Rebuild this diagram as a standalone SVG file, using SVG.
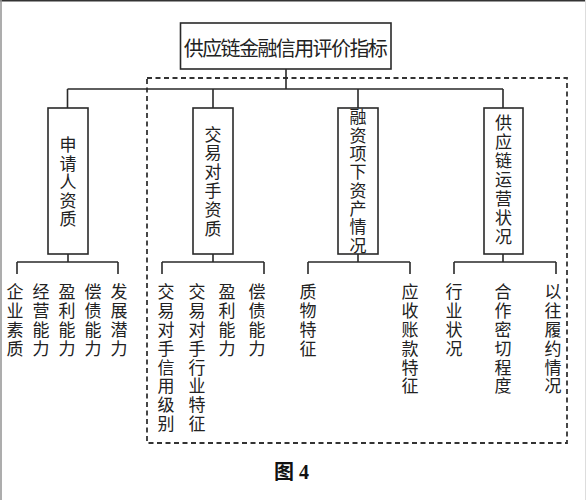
<svg xmlns="http://www.w3.org/2000/svg" width="586" height="500" viewBox="0 0 586 500">
<defs>
<style>
.ln{stroke:#2a2a2a;stroke-width:1.6;fill:none}
.box{stroke:#2a2a2a;stroke-width:1.6;fill:#fff}
.dash{stroke:#333;stroke-width:1.8;fill:none;stroke-dasharray:5 3.5}
.v{font-family:"Noto Sans CJK SC","Noto Sans",sans-serif;font-size:17px;fill:#222;writing-mode:vertical-rl;text-orientation:upright;letter-spacing:1.8px}
.vm{text-anchor:middle}
.tt{font-family:"Noto Sans CJK SC","Noto Sans",sans-serif;font-size:20px;fill:#222;text-anchor:middle;dominant-baseline:central}
.cap{font-family:"Liberation Serif","Noto Sans CJK SC",serif;font-size:20px;font-weight:bold;fill:#111}
</style>
</defs>
<rect x="0" y="0" width="586" height="500" fill="#fff"/>
<line x1="0" y1="0.8" x2="586" y2="0.8" stroke="#333" stroke-width="1.6"/>
<line x1="1" y1="0" x2="1" y2="500" stroke="#999" stroke-width="1.6"/>
<line x1="585.5" y1="0" x2="585.5" y2="500" stroke="#ddd" stroke-width="1"/>

<rect class="dash" x="147" y="78" width="420" height="365"/>

<g id="connectors">
<path class="ln" d="M286 69V89M67.5 89H503M67.5 89V108M213 89V108M358 89V108M503 89V108"/>
<path class="ln" d="M68 254V262M17 262H118M17 262V274M118 262V274"/>
<path class="ln" d="M213 254V262M162 262H264M162 262V274M264 262V274"/>
<path class="ln" d="M358 254V262M308 262H410M308 262V274M410 262V274"/>
<path class="ln" d="M503 254V262M454 262H556M454 262V274M556 262V274"/>
</g>

<g id="root">
<rect class="box" x="180.5" y="23" width="210.5" height="46"/>
<text class="tt" x="285.8" y="47" textLength="204" lengthAdjust="spacing">供应链金融信用评价指标</text>
</g>

<g id="n1">
<rect class="box" x="48" y="108" width="40" height="146"/>
<text class="v vm" x="68" y="182.3" style="letter-spacing:1.5px">申请人资质</text>
</g>
<g id="n2">
<rect class="box" x="193" y="108" width="40" height="146"/>
<text class="v vm" x="213" y="182">交易对手资质</text>
</g>
<g id="n3">
<rect class="box" x="338" y="108" width="40" height="146"/>
<text class="v vm" x="358" y="181.7" style="letter-spacing:1.3px">融资项下资产情况</text>
</g>
<g id="n4">
<rect class="box" x="484" y="108" width="39" height="146"/>
<text class="v vm" x="503.5" y="181" style="letter-spacing:2px">供应链运营状况</text>
</g>

<g id="c1a"><text class="v" x="15" y="283.5">企业素质</text></g>
<g id="c1b"><text class="v" x="41" y="283.5">经营能力</text></g>
<g id="c1c"><text class="v" x="67" y="283.5">盈利能力</text></g>
<g id="c1d"><text class="v" x="93" y="283.5">偿债能力</text></g>
<g id="c1e"><text class="v" x="119" y="283.5">发展潜力</text></g>

<g id="c2a"><text class="v" x="166" y="283.5">交易对手信用级别</text></g>
<g id="c2b"><text class="v" x="197" y="283.5">交易对手行业特征</text></g>
<g id="c2c"><text class="v" x="227" y="283.5">盈利能力</text></g>
<g id="c2d"><text class="v" x="257" y="283.5">偿债能力</text></g>

<g id="c3a"><text class="v" x="308" y="283.5">质物特征</text></g>
<g id="c3b"><text class="v" x="410" y="283.5">应收账款特征</text></g>

<g id="c4a"><text class="v" x="454" y="283.5">行业状况</text></g>
<g id="c4b"><text class="v" x="503" y="283.5">合作密切程度</text></g>
<g id="c4c"><text class="v" x="553" y="283.5">以往履约情况</text></g>

<text class="cap" x="274" y="479">图 4</text>
</svg>
